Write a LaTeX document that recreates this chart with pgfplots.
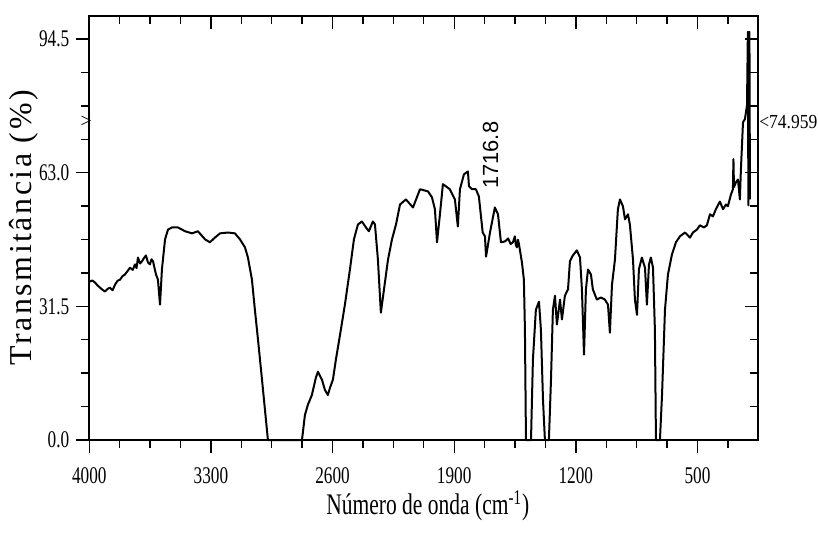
\documentclass[border=0pt]{standalone}
\usepackage{fontspec}
\setmainfont{Liberation Serif}
\newfontfamily\narrow[FakeStretch=0.72]{Liberation Serif}
\newfontfamily\semi[FakeStretch=0.88]{Liberation Serif}
\newfontfamily\ylabfont[LetterSpace=8]{Liberation Serif}
\newfontfamily\annot{Liberation Sans}
\usepackage{pgfplots}
\pgfplotsset{compat=1.18}
\begin{document}
\begin{tikzpicture}
\pgfplotsset{common/.style={
  scale only axis, width=334.5bp, height=212.15bp,
  at={(0,0)}, anchor=south west,
  x dir=reverse, xmin=150, xmax=4000, ymin=0, ymax=100,
  xtick={4000,3300,2600,1900,1200,500},
  minor xtick={3825,3650,3475,3125,2950,2775,2425,2250,2075,1725,1550,1375,1025,850,675,325},
  ytick={0,31.5,63,94.5},
  minor ytick={7.875,15.75,23.625,39.375,47.25,55.125,70.875,78.75,86.625},
  major tick length=6.5bp, minor tick length=4bp,
  tick style={black, line width=0.7bp},
  axis line style={line width=0.9bp},
  clip=false,
}}
\begin{axis}[common,
  xtick pos=bottom, ytick pos=left, tick align=outside,
  xticklabels={4000,3300,2600,1900,1200,500},
  yticklabels={0.0,31.5,63.0,94.5},
  ticklabel style={font=\narrow\fontsize{12}{13}\selectfont},
  xticklabel style={yshift=-4bp},
  every axis x label/.style={at={(axis description cs:0.5,0)}, yshift=-33bp, xshift=2bp, anchor=center},
  every axis y label/.style={at={(axis description cs:0,0.5)}, xshift=-32.5bp, rotate=90, anchor=center},
  xlabel={\narrow\fontsize{15}{17}\selectfont Número de onda (cm\textsuperscript{-1})},
  ylabel={\ylabfont\fontsize{16}{18}\selectfont Transmitância (\%)},
]
\addplot[black, line width=1bp, line join=round] coordinates {
(4000,37.3) (3982,37.6) (3967,37.1) (3952,36.4) (3938,35.9) (3924,35.4) (3910,35.0) (3895,35.6) (3881,35.9) (3866,35.3) (3852,36.6) (3838,37.5) (3823,37.8) (3809,38.6) (3795,39.0) (3780,39.8) (3766,40.6) (3750,40.1) (3737,41.4) (3728,40.5) (3720,43.0) (3708,41.6) (3697,42.1) (3685,42.9) (3674,43.5) (3662,41.8) (3651,41.4) (3642,42.6) (3633,42.1) (3624,40.4) (3616,39.0) (3605,37.8) (3593,31.9) (3582,40.2) (3564,47.3) (3547,49.6) (3524,50.1) (3490,50.1) (3449,49.2) (3409,48.7) (3375,49.2) (3334,47.3) (3306,46.6) (3277,47.7) (3248,48.7) (3202,48.9) (3162,48.7) (3133,47.3) (3104,45.4) (3087,43.0) (3064,37.8) (3047,30.7) (3029,23.6) (3006,14.2) (2989,7.1) (2972,0) (2776,0) (2759,5.9) (2742,8.3) (2719,10.6) (2696,14.7) (2684,16.1) (2661,14.2) (2644,11.8) (2627,10.6) (2615,12.3) (2598,14.2) (2581,18.9) (2557,24.8) (2529,31.9) (2500,40.2) (2477,47.3) (2454,50.8) (2431,51.5) (2408,50.1) (2391,49.2) (2368,51.5) (2356,50.8) (2339,42.5) (2322,30.0) (2304,35.5) (2281,42.5) (2258,47.3) (2235,50.8) (2212,55.5) (2178,56.7) (2137,54.8) (2097,59.1) (2051,58.6) (2028,57.2) (2011,54.4) (1999,46.6) (1982,53.2) (1965,60.3) (1925,59.1) (1896,56.7) (1879,50.3) (1867,59.1) (1844,62.6) (1821,63.3) (1815,59.8) (1798,59.1) (1775,59.1) (1758,57.4) (1736,48.9) (1723,48.0) (1716.8,43.2) (1694,48.9) (1666,54.8) (1648,53.2) (1631,46.6) (1608,46.8) (1590,47.5) (1575,46.2) (1562,46.6) (1551,48.0) (1545,45.9) (1539,45.4) (1533,47.2) (1527,46.1) (1510,41.8) (1499,37.8) (1493,26.0) (1487,0) (1458,0) (1447,18.9) (1430,30.7) (1412,32.6) (1401,26.0) (1389,9.5) (1378,0) (1355,0) (1343,14.2) (1332,30.7) (1320,34.0) (1309,27.2) (1291,33.1) (1280,28.4) (1263,34.0) (1245,35.5) (1234,42.1) (1217,43.5) (1194,44.7) (1176,43.0) (1165,35.5) (1153,20.1) (1142,35.5) (1130,40.2) (1113,39.0) (1102,35.5) (1079,33.1) (1056,33.6) (1033,33.1) (1015,31.9) (1004,25.3) (992,36.6) (975,42.5) (958,54.4) (946,56.7) (929,55.1) (917,52.0) (900,53.2) (889,50.8) (871,42.5) (860,33.1) (848,29.5) (837,40.2) (820,43.0) (802,40.6) (791,31.9) (779,41.4) (768,43.0) (756,40.6) (745,26.0) (739,0) (716,0) (704,10.6) (687,30.7) (670,39.0) (647,43.7) (624,46.6) (601,48.0) (572,48.9) (543,47.7) (526,48.9) (503,49.6) (486,50.6) (463,50.1) (446,50.6) (428,53.2) (411,52.7) (394,54.4) (371,56.2) (353,54.4) (336,55.5) (325,55.1) (307,57.9) (296,59.1) (293,66.2) (290,59.6) (279,60.7) (267,61.4) (256,56.7) (250,63.8) (238,74.9) (227,75.6) (215,78.9) (210,96.2) (207,55.3) (204,94.5) (201,96.2) (198,56.7)
};
\node[rotate=90, font=\annot\fontsize{11}{12}\selectfont] at (axis cs:1691,67.1) {1716.8};
\node[anchor=west, inner sep=0.3bp, font=\semi\fontsize{10}{12}\selectfont] at (axis cs:150,74.959) {<74.959};
\node[anchor=east, inner sep=0, xshift=1.5bp, font=\fontsize{10}{11}\selectfont] at (axis cs:4000,74.959) {>};
\end{axis}
\begin{axis}[common,
  xtick pos=top, ytick pos=right, tick align=inside,
  xticklabels={}, yticklabels={},
]
\end{axis}
\pgfresetboundingbox
\path[use as bounding box] (-44.65bp,-48.5bp) rectangle (364.35bp,220.0bp);
\end{tikzpicture}
\end{document}
